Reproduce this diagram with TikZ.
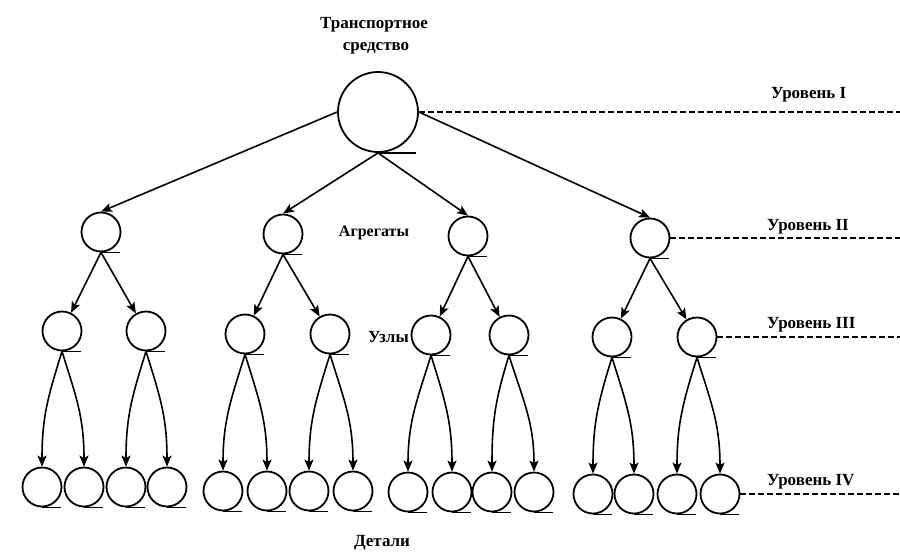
\documentclass[tikz,border=0pt]{standalone}
\usepackage{fontspec}
\setmainfont{Liberation Serif}
\usetikzlibrary{arrows.meta}

\begin{document}
\begin{tikzpicture}[x=1pt, y=-1pt,
  bigcirc/.style={circle, draw, line width=1.8pt, minimum size=80pt, inner sep=0pt},
  smallcirc/.style={circle, draw, line width=1.8pt, minimum size=39pt, inner sep=0pt},
  link/.style={line width=1.6pt, -{Stealth[length=11pt,width=9pt,inset=2.5pt]}},
  tick/.style={line width=1.8pt},
  levelline/.style={line width=1.6pt, dash pattern=on 6pt off 3pt},
  lbl/.style={font=\bfseries\fontsize{17}{19}\selectfont, inner sep=0pt},
  plain/.style={font=\bfseries\fontsize{16}{18}\selectfont, inner sep=0pt}]

\useasboundingbox (0,0) rectangle (900,552);
\coordinate (rim) at (900,0);

% vehicle
\node[bigcirc] (top) at (378,112) {};
\node[lbl] (t1) at (374,25) {Транспортное};
\node[lbl] (t2) at (376,48) {средство};

% assemblies
\foreach \n/\x/\y in {A1/101/232, A2/283/234, A3/468/236, A4/650/238}
  \node[smallcirc] (\n) at (\x,\y) {};

% units
\foreach \n/\x/\y in {U11/62/331, U12/146/331, U21/245/334, U22/330/334,
                      U31/431/335, U32/509/335, U41/612/337, U42/697/337}
  \node[smallcirc] (\n) at (\x,\y) {};

% parts
\foreach \n/\x/\y in {D111/42/487, D112/84/487, D121/126/487, D122/167/487,
                      D211/223/491, D212/267/491, D221/309/491, D222/353/491,
                      D311/408/492, D312/452/492, D321/492/492, D322/534/492,
                      D411/593/494, D412/634/494, D421/677/494, D422/720/494}
  \node[smallcirc] (\n) at (\x,\y) {};

% short base strokes under the circles
\draw[tick] (top.south) -- ++(38,0);
\foreach \n in {A1,A2,A3,A4,U11,U12,U21,U22,U31,U32,U41,U42,
                D111,D112,D121,D122,D211,D212,D221,D222,
                D311,D312,D321,D322,D411,D412,D421,D422}
  \draw[tick] (\n.south) -- ++(19,0);

% vehicle -> assemblies
\draw[link] (top.west) -- (A1.north);
\draw[link] (top.south) -- (A2.north);
\draw[link] (top.south) -- (A3.north);
\draw[link] (top.east) -- (A4.north);

% assemblies -> units
\foreach \p/\c in {A1/U11, A1/U12, A2/U21, A2/U22, A3/U31, A3/U32, A4/U41, A4/U42}
  \draw[link] (\p.south) -- (\c);

% units -> parts (curved)
\foreach \p/\l/\r in {U11/D111/D112, U12/D121/D122, U21/D211/D212, U22/D221/D222,
                      U31/D311/D312, U32/D321/D322, U41/D411/D412, U42/D421/D422}{
  \draw[link] (\p.south) .. controls +(-14,45) and +(0,-50) .. (\l.north);
  \draw[link] (\p.south) .. controls +(14,45) and +(0,-50) .. (\r.north);
}

% level guide lines
\draw[levelline] (top.east) -- (top.east -| rim);
\draw[levelline] (A4.east) -- (A4.east -| rim);
\draw[levelline] (U42.east) -- (U42.east -| rim);
\draw[levelline] (D422.east) -- (D422.east -| rim);

\node[lbl, anchor=west] (l1) at (771,95) {Уровень I};
\node[lbl, anchor=west] (l2) at (767,227) {Уровень II};
\node[lbl, anchor=west] (l3) at (767,325) {Уровень III};
\node[lbl, anchor=west] (l4) at (767,482) {Уровень IV};

% group names
\node[plain] (agg) at (374,233) {Агрегаты};
\node[lbl, anchor=east] (uzl) at (409,337) {Узлы};
\node[lbl] (det) at (382,543) {Детали};

\end{tikzpicture}
\end{document}
